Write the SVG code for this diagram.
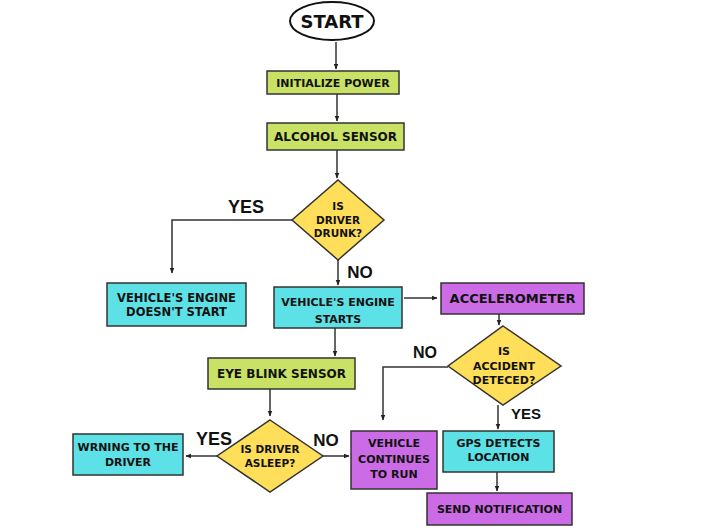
<svg xmlns="http://www.w3.org/2000/svg" width="712" height="528" viewBox="0 0 712 528">
<defs>
<marker id="ah" viewBox="0 0 10 10" refX="9" refY="5" markerWidth="6" markerHeight="6" orient="auto" markerUnits="userSpaceOnUse">
<path d="M0,1 L10,5 L0,9 Z" fill="#222"/>
</marker>
<style>
.box{stroke:#333;stroke-width:1.5}
.g{fill:#c9e265}.c{fill:#5ce1e6}.p{fill:#cb6ce6}.y{fill:#ffde59}
.t{font-family:"DejaVu Sans",sans-serif;font-weight:bold;fill:#111;text-anchor:middle}
.lbl{font-family:"Liberation Sans",Arial,sans-serif;font-weight:bold;fill:#111;text-anchor:middle}
.ln{fill:none;stroke:#333;stroke-width:1.5}
</style>
</defs>
<rect width="712" height="528" fill="#fff"/>
<g id="connectors">
<path class="ln" d="M336,42 V69" marker-end="url(#ah)"/>
<path class="ln" d="M337,94 V121" marker-end="url(#ah)"/>
<path class="ln" d="M337,150 V178" marker-end="url(#ah)"/>
<path class="ln" d="M292,220 H172 V273" marker-end="url(#ah)"/>
<path class="ln" d="M338,260 V285" marker-end="url(#ah)"/>
<path class="ln" d="M404,298 H437" marker-end="url(#ah)"/>
<path class="ln" d="M499,314 V325" marker-end="url(#ah)"/>
<path class="ln" d="M448,367 H383 V420" marker-end="url(#ah)"/>
<path class="ln" d="M498,405 V429" marker-end="url(#ah)"/>
<path class="ln" d="M497,472 V491" marker-end="url(#ah)"/>
<path class="ln" d="M335,328 V356" marker-end="url(#ah)"/>
<path class="ln" d="M270,389 V416" marker-end="url(#ah)"/>
<path class="ln" d="M217,456 H186" marker-end="url(#ah)"/>
<path class="ln" d="M323,456 H349" marker-end="url(#ah)"/>
<text class="lbl" x="246" y="213" font-size="18">YES</text>
<text class="lbl" x="360" y="278" font-size="17">NO</text>
<text class="lbl" x="425" y="358" font-size="16">NO</text>
<text class="lbl" x="526" y="419" font-size="15">YES</text>
<text class="lbl" x="214" y="445" font-size="18">YES</text>
<text class="lbl" x="326" y="446" font-size="17">NO</text>
</g>
<g id="start">
<ellipse cx="332" cy="21" rx="42" ry="19" fill="#fff" stroke="#111" stroke-width="2"/>
<text class="t" x="332" y="28" font-size="18">START</text>
</g>
<g id="init-power">
<rect class="box g" x="267" y="71" width="132" height="23"/>
<text class="t" x="333" y="86.5" font-size="11">INITIALIZE POWER</text>
</g>
<g id="alcohol-sensor">
<rect class="box g" x="267" y="123" width="137" height="27"/>
<text class="t" x="335.5" y="141" font-size="12">ALCOHOL SENSOR</text>
</g>
<g id="driver-drunk">
<polygon class="box y" points="338,180 384,220 338,260 292,220"/>
<text class="t" x="338" y="210" font-size="10.5">IS</text>
<text class="t" x="338" y="224" font-size="10.5">DRIVER</text>
<text class="t" x="338" y="237" font-size="10.5">DRUNK?</text>
</g>
<g id="engine-not-start">
<rect class="box c" x="107" y="283" width="139" height="43"/>
<text class="t" x="176.5" y="302" font-size="11.5">VEHICLE'S ENGINE</text>
<text class="t" x="176.5" y="316" font-size="11.5">DOESN'T START</text>
</g>
<g id="engine-starts">
<rect class="box c" x="274" y="287" width="128" height="41"/>
<text class="t" x="338" y="306" font-size="11">VEHICLE'S ENGINE</text>
<text class="t" x="338" y="323" font-size="11">STARTS</text>
</g>
<g id="accelerometer">
<rect class="box p" x="441" y="283" width="143" height="31"/>
<text class="t" x="512.5" y="303" font-size="13">ACCELEROMETER</text>
</g>
<g id="accident-detected">
<polygon class="box y" points="503,326 561,366 503,405 448,366"/>
<text class="t" x="504" y="355" font-size="11">IS</text>
<text class="t" x="504" y="370" font-size="11">ACCIDENT</text>
<text class="t" x="504" y="384" font-size="11">DETECED?</text>
</g>
<g id="eye-blink">
<rect class="box g" x="208" y="358" width="147" height="31"/>
<text class="t" x="281.5" y="378" font-size="12">EYE BLINK SENSOR</text>
</g>
<g id="driver-asleep">
<polygon class="box y" points="270,420 323,456 270,492 217,456"/>
<text class="t" x="270" y="453" font-size="10.5">IS DRIVER</text>
<text class="t" x="270" y="467" font-size="10.5">ASLEEP?</text>
</g>
<g id="warning">
<rect class="box c" x="73" y="434" width="110" height="41"/>
<text class="t" x="128" y="451" font-size="11">WRNING TO THE</text>
<text class="t" x="128" y="466" font-size="11">DRIVER</text>
</g>
<g id="continues">
<rect class="box p" x="351" y="431" width="86" height="58"/>
<text class="t" x="394" y="447" font-size="11">VEHICLE</text>
<text class="t" x="394" y="463" font-size="11">CONTINUES</text>
<text class="t" x="394" y="478" font-size="11">TO RUN</text>
</g>
<g id="gps">
<rect class="box c" x="443" y="431" width="111" height="41"/>
<text class="t" x="498.5" y="447" font-size="11">GPS DETECTS</text>
<text class="t" x="498.5" y="461" font-size="11">LOCATION</text>
</g>
<g id="send-notification">
<rect class="box p" x="427" y="493" width="145" height="32"/>
<text class="t" x="499.5" y="513" font-size="11">SEND NOTIFICATION</text>
</g>
</svg>
